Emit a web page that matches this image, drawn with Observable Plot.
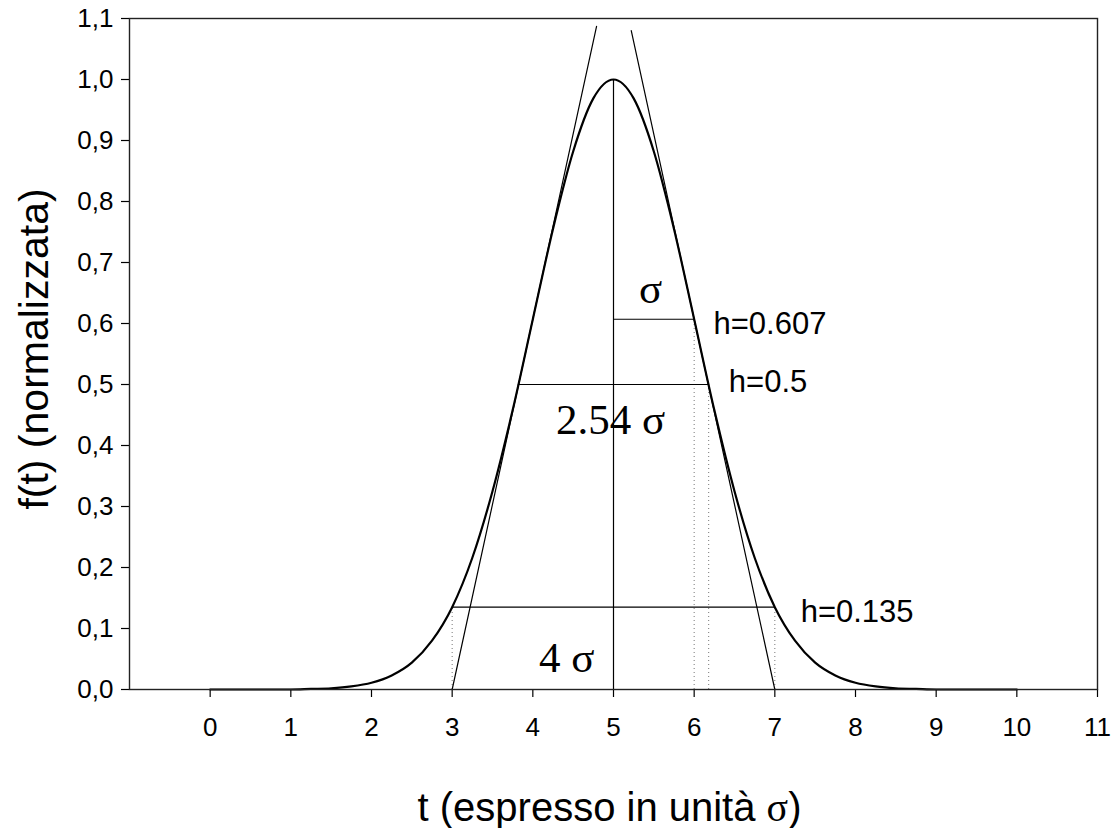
<!DOCTYPE html>
<html>
<head>
<meta charset="utf-8">
<script src="https://cdn.jsdelivr.net/npm/d3@7"></script>
<script src="https://cdn.jsdelivr.net/npm/@observablehq/plot@0.6"></script>
<style>
  body { margin: 0; background: #fff; }
  svg { display: block; }
  g[aria-label*="tick label"], g[aria-label*="tick label"] text { font-size: 26px !important; }
</style>
</head>
<body>
<div id="chart"></div>
<script>
// Normalised Gaussian profile (sigma = 1, centred at t = 5)
const curveT = [0, 0.25, 0.5, 0.75, 1, 1.25, 1.5, 1.75, 2, 2.25, 2.5, 2.75, 3, 3.25, 3.5, 3.75, 4, 4.25, 4.5, 4.75,
                5, 5.25, 5.5, 5.75, 6, 6.25, 6.5, 6.75, 7, 7.25, 7.5, 7.75, 8, 8.25, 8.5, 8.75, 9, 9.25, 9.5, 9.75, 10];
const curveF = [0, 0, 0, 0, 0, 0.001, 0.002, 0.005, 0.011, 0.023, 0.044, 0.080, 0.135, 0.216, 0.325, 0.458, 0.607, 0.755, 0.882, 0.969,
                1.000, 0.969, 0.882, 0.755, 0.607, 0.458, 0.325, 0.216, 0.135, 0.080, 0.044, 0.023, 0.011, 0.005, 0.002, 0.001, 0, 0, 0, 0, 0];

// Tangents through the inflection points
const leftTangentT = [3, 4.79];
const leftTangentF = [0, 1.087];
const rightTangentT = [7, 5.22];
const rightTangentF = [0, 1.080];

// Horizontal width markers
const widthStart = [5, 3.82, 3];
const widthEnd = [6, 6.18, 7];
const widthLevel = [0.607, 0.5, 0.135];

// Dotted drop lines
const dropT = [3, 7, 6, 6.18];
const dropTop = [0.135, 0.135, 0.607, 0.5];

// Central axis of the peak
const peakT = 5;
const peakF = 1.0;

// Annotations
const hLabels = ["h=0.607", "h=0.5", "h=0.135"];
const hLabelT = [6.24, 6.43, 7.32];
const hLabelF = [0.583, 0.488, 0.110];
const sigmaLabels = ["σ", "2.54 σ", "4 σ"];
const sigmaLabelT = [5.46, 4.965, 4.42];
const sigmaLabelF = [0.633, 0.419, 0.0295];

// Axes
const xTicks = [0, 1, 2, 3, 4, 5, 6, 7, 8, 9, 10, 11];
const yTicks = [0, 0.1, 0.2, 0.3, 0.4, 0.5, 0.6, 0.7, 0.8, 0.9, 1.0, 1.1];
const yTickLabels = ["0,0", "0,1", "0,2", "0,3", "0,4", "0,5", "0,6", "0,7", "0,8", "0,9", "1,0", "1,1"];
const xTitle = "t (espresso in unità σ)";
const yTitle = "f(t) (normalizzata)";

const curve = curveT.map((t, i) => ({t, f: curveF[i]}));
const tangents = [
  ...leftTangentT.map((t, i) => ({side: "left", t, f: leftTangentF[i]})),
  ...rightTangentT.map((t, i) => ({side: "right", t, f: rightTangentF[i]}))
];
const widths = widthLevel.map((f, i) => ({t1: widthStart[i], t2: widthEnd[i], f}));
const drops = dropT.map((t, i) => ({t, f1: 0, f2: dropTop[i]}));
const hAnno = hLabels.map((text, i) => ({text, t: hLabelT[i], f: hLabelF[i]}));
const sAnno = sigmaLabels.map((text, i) => ({text, t: sigmaLabelT[i], f: sigmaLabelF[i]}));

const sans = "'Liberation Sans', Arial, Helvetica, sans-serif";
const serif = "'Liberation Serif', 'Times New Roman', serif";

const chart = Plot.plot({
  width: 1115,
  height: 828,
  marginLeft: 129,
  marginRight: 18,
  marginTop: 18,
  marginBottom: 139,
  style: {fontFamily: sans, background: "#fff", color: "#000", overflow: "visible"},
  x: {domain: [-1, 11]},
  y: {domain: [0, 1.1]},
  marks: [
    Plot.axisX(xTicks, {tickSize: 8, tickPadding: 20, label: null, strokeWidth: 1.2, fontSize: 26}),
    Plot.axisY(yTicks, {tickSize: 8, tickPadding: 8, label: null, strokeWidth: 1.2, fontSize: 26,
                        tickFormat: d => yTickLabels[yTicks.indexOf(d)]}),
    Plot.ruleX(drops, {x: "t", y1: "f1", y2: "f2", stroke: "#777", strokeWidth: 1, strokeDasharray: "1,3"}),
    Plot.ruleY(widths, {y: "f", x1: "t1", x2: "t2", stroke: "#000", strokeWidth: 1.2}),
    Plot.ruleX([peakT], {y1: 0, y2: peakF, stroke: "#000", strokeWidth: 1.2}),
    Plot.line(tangents, {x: "t", y: "f", z: "side", stroke: "#000", strokeWidth: 1.2}),
    Plot.line(curve, {x: "t", y: "f", curve: "monotone-x", stroke: "#000", strokeWidth: 2.2}),
    Plot.text(hAnno, {x: "t", y: "f", text: "text", textAnchor: "start", lineAnchor: "bottom",
                      fontSize: 31, fontFamily: sans, fill: "#000"}),
    Plot.text(sAnno, {x: "t", y: "f", text: "text", textAnchor: "middle", lineAnchor: "bottom",
                      fontSize: 43, fontFamily: serif, fill: "#000"}),
    Plot.text([xTitle], {text: d => d, frameAnchor: "bottom", textAnchor: "middle", lineAnchor: "bottom", dx: -4, dy: 131,
                         fontSize: 40, fontFamily: sans, fill: "#000"}),
    Plot.text([yTitle], {text: d => d, frameAnchor: "left", rotate: -90, textAnchor: "middle", lineAnchor: "middle",
                         dx: -95, dy: -5, fontSize: 41, fontFamily: sans, fill: "#000"}),
    Plot.frame({stroke: "#222", strokeWidth: 1.4})
  ]
});

// The sigma of the x title is set in the serif face
d3.select(chart).selectAll("text").each(function() {
  const node = d3.select(this);
  if (node.text() === xTitle) {
    const parts = xTitle.split("σ");
    node.text(null);
    node.append("tspan").text(parts[0]);
    node.append("tspan").attr("font-family", serif).text("σ");
    node.append("tspan").text(parts[1]);
  }
});

document.getElementById("chart").append(chart);
</script>
</body>
</html>
